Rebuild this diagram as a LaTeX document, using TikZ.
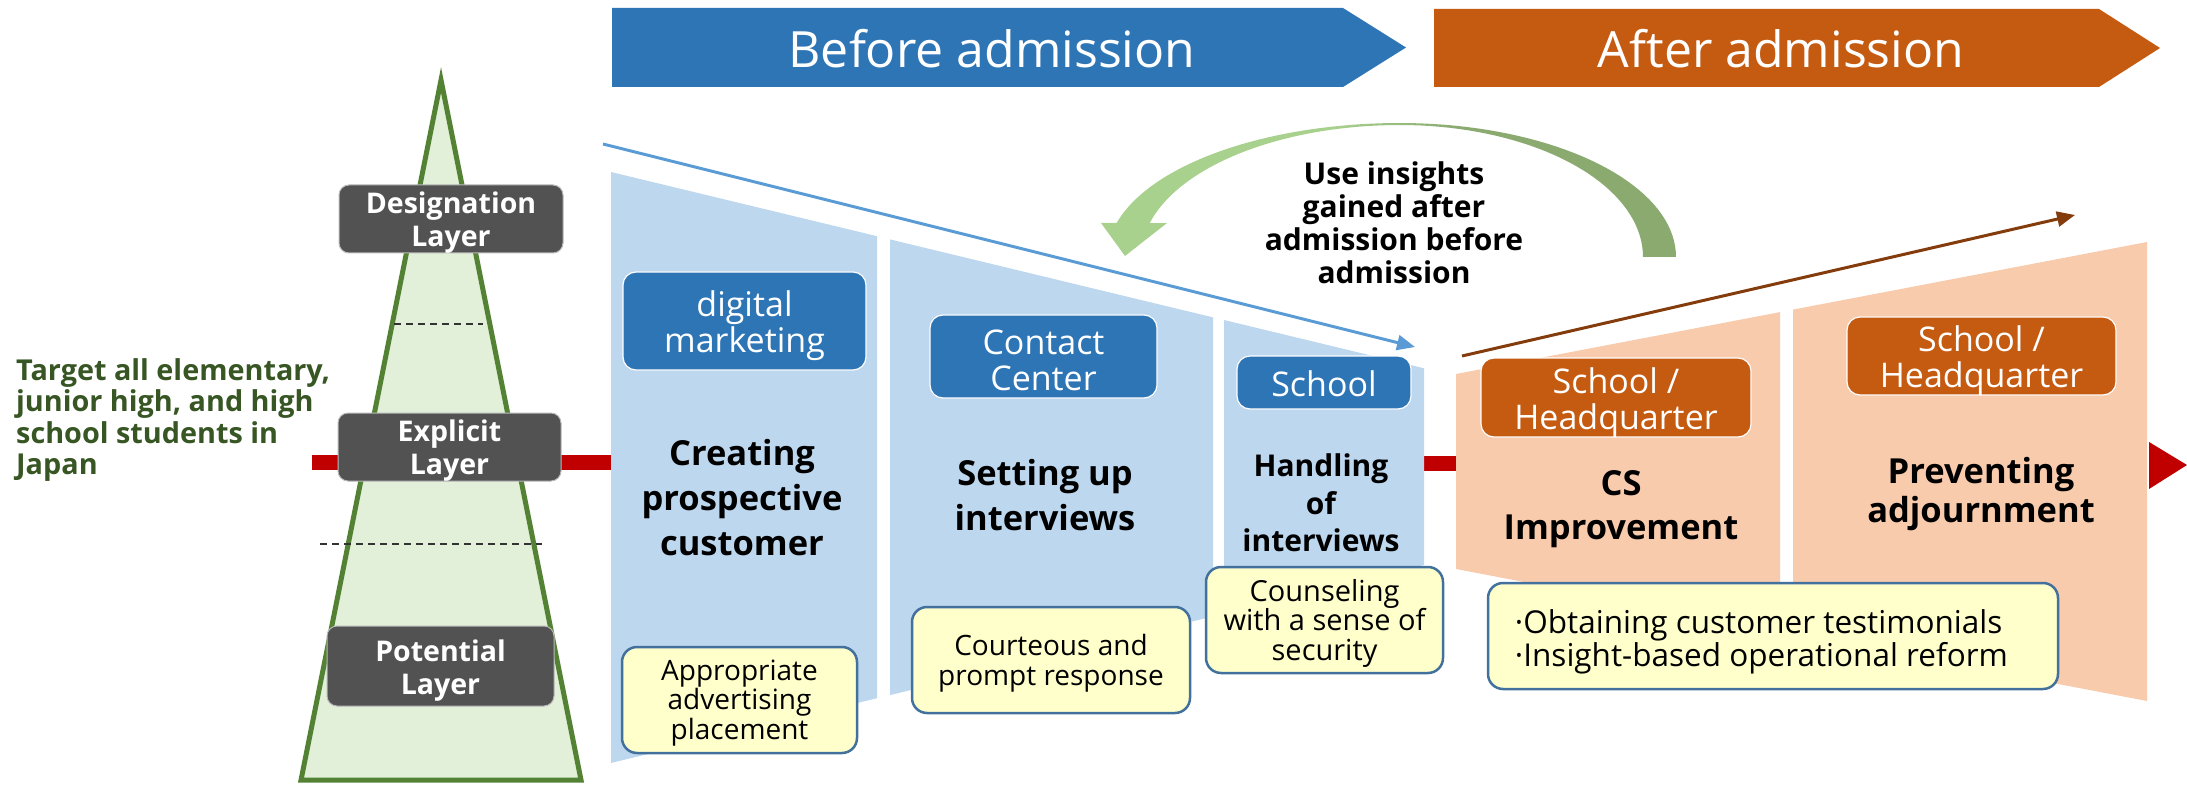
\documentclass[tikz,border=0pt]{standalone}
\usepackage{fontspec}
\setmainfont{Open Sans}
\usetikzlibrary{arrows.meta}

\definecolor{bannerBlue}{HTML}{2E75B6}
\definecolor{bannerOrange}{HTML}{C55A11}
\definecolor{panelBlue}{HTML}{BDD7EE}
\definecolor{panelOrange}{HTML}{F8CBAD}
\definecolor{pyramidGreen}{HTML}{548235}
\definecolor{pyramidFill}{HTML}{E2F0D9}
\definecolor{layerGray}{HTML}{525252}
\definecolor{targetGreen}{HTML}{375623}
\definecolor{alertRed}{HTML}{C00000}
\definecolor{lineBlue}{HTML}{5B9BD5}
\definecolor{lineBrown}{HTML}{843C0C}
\definecolor{noteYellow}{HTML}{FFFFCC}
\definecolor{noteBorder}{HTML}{41719C}
\definecolor{arcLight}{HTML}{A9D18E}
\definecolor{arcDark}{HTML}{8AAA70}

% light green on the arrow-head side, darker green on the tail side
\pgfdeclarehorizontalshading{insightshade}{100bp}{color(0bp)=(arcLight); color(45bp)=(arcLight); color(56bp)=(arcDark); color(100bp)=(arcDark)}

\begin{document}
\begin{tikzpicture}[x=1pt,y=-1pt,
  % boxes are drawn empty; their labels are separate nodes set slightly below the centre
  layerbox/.style={rectangle, rounded corners=10pt, fill=layerGray, draw=gray!55, line width=1pt, inner sep=0pt},
  layertext/.style={text=white, font=\bfseries\fontsize{28.5}{33}\selectfont, align=center, inner sep=0pt},
  rolebox/.style={rectangle, rounded corners=13pt, draw=white, line width=1.2pt, inner sep=0pt},
  roletext/.style={text=white, align=center, inner sep=0pt, font=\fontsize{34}{36}\selectfont},
  notebox/.style={rectangle, rounded corners=15pt, fill=noteYellow, draw=noteBorder, line width=2.5pt, inner sep=0pt},
  notetext/.style={align=center, inner sep=0pt, font=\fontsize{28}{29.5}\selectfont},
  stagetitle/.style={align=center, inner sep=0pt},
  bannertext/.style={text=white, font=\fontsize{50}{60}\selectfont, inner sep=0pt, anchor=base},
  flowarrow/.style={line width=3pt, -{Triangle[length=18pt,width=15pt]}},
  redbar/.style={alertRed, line width=15pt},
  layerline/.style={gray!40!black, line width=1.5pt, dash pattern=on 7pt off 5pt}
]
\useasboundingbox (0,0) rectangle (2187,786);

% ---------- phase banners ----------
\fill[bannerBlue] (612,8) -- (1343,8) -- (1406,47.5) -- (1343,87) -- (612,87) -- cycle;
\fill[bannerOrange] (1434,9) -- (2099,9) -- (2160,48) -- (2099,87) -- (1434,87) -- cycle;
\node[bannertext] (before) at (992,68) {Before admission};
\node[bannertext] (after) at (1781,68) {After admission};

% ---------- target pyramid ----------
\draw[pyramidGreen, fill=pyramidFill, line width=5pt, miter limit=25] (441,80) -- (301,780) -- (581,780) -- cycle;
\draw[layerline] (394,324) -- (483,324);
\draw[layerline] (320,544) -- (542,544);

% ---------- red flow line ----------
\coordinate (redA) at (312,462);
\coordinate (redB) at (611,462);
\coordinate (redC) at (1424,463);
\coordinate (redD) at (1456,463);
\draw[redbar] (redA) -- (redB);
\draw[redbar] (redC) -- (redD);
\fill[alertRed] (2149,442) -- (2187,465) -- (2149,489) -- cycle;

% ---------- layer labels ----------
\node[layerbox, minimum width=224pt, minimum height=68pt] (designation) at (451,219) {};
\node[layerbox, minimum width=223pt, minimum height=68pt] (explicit) at (449.5,447) {};
\node[layerbox, minimum width=227pt, minimum height=80pt] (potential) at (440.5,666) {};
\node[layertext] (designationText) at ([yshift=-4pt]designation.center) {Designation\\Layer};
\node[layertext] (explicitText) at ([yshift=-4pt]explicit.center) {Explicit\\Layer};
\node[layertext] (potentialText) at ([yshift=-5pt]potential.center) {Potential\\Layer};

\node[text=targetGreen, font=\bfseries\fontsize{28.8}{31.5}\selectfont, align=left, anchor=west, inner sep=0pt]
  (target) at (16,420) {Target all elementary,\\junior high, and high\\school students in\\Japan};

% ---------- before-admission funnel ----------
\fill[panelBlue] (611,172) -- (877,236.2) -- (877,698.2) -- (611,763) -- cycle;
\fill[panelBlue] (890,239.4) -- (1213,317.4) -- (1213,616.4) -- (890,695.1) -- cycle;
\fill[panelBlue] (1224,320) -- (1424,368.3) -- (1424,565) -- (1224,613.7) -- cycle;

% ---------- after-admission funnel ----------
\fill[panelOrange] (1456,374) -- (1780,312.1) -- (1780,630.9) -- (1456,569) -- cycle;
\fill[panelOrange] (1793,309.6) -- (2147,242) -- (2147,701) -- (1793,633.4) -- cycle;

% ---------- trend arrows ----------
\coordinate (declineStart) at (603,144);
\coordinate (declineEnd) at (1415,347);
\draw[flowarrow, lineBlue] (declineStart) -- (declineEnd);
\coordinate (riseStart) at (1462,356);
\coordinate (riseEnd) at (2075,215);
\draw[flowarrow, lineBrown] (riseStart) -- (riseEnd);

% ---------- feedback arrow ----------
\shade[shading=insightshade]
  (1117,223)
  -- plot[domain=165.3:90, samples=40] ({1400+293*cos(\x)},{257-134*sin(\x)})
  -- plot[domain=90:0, samples=40] ({1400+276*cos(\x)},{257-134*sin(\x)})
  -- (1643,257)
  -- plot[domain=0:90, samples=40] ({1400+243*cos(\x)},{257-132*sin(\x)})
  -- plot[domain=90:165.1, samples=40] ({1400+259*cos(\x)},{257-132*sin(\x)})
  -- (1167,223) -- (1125,256) -- (1101,223) -- cycle;
\node[font=\bfseries\fontsize{30}{33}\selectfont, align=center, inner sep=0pt] (insight) at (1394,223)
  {Use insights\\gained after\\admission before\\admission};

% ---------- responsible parties ----------
\node[rolebox, fill=bannerBlue, minimum width=243pt, minimum height=98pt] (digital) at (744.5,321) {};
\node[rolebox, fill=bannerBlue, minimum width=227pt, minimum height=83pt] (contact) at (1043.5,356.5) {};
\node[rolebox, fill=bannerBlue, minimum width=174pt, minimum height=53pt] (school) at (1324,382.5) {};
\node[rolebox, fill=bannerOrange, minimum width=270pt, minimum height=79pt] (schoolhqA) at (1616,397.5) {};
\node[rolebox, fill=bannerOrange, minimum width=269pt, minimum height=78pt] (schoolhqB) at (1981.5,356) {};
\node[roletext] (digitalText) at ([yshift=-5pt]digital.center) {digital\\marketing};
\node[roletext] (contactText) at ([yshift=-4pt]contact.center) {Contact\\Center};
\node[roletext] (schoolText) at ([yshift=-1pt]school.center) {School};
\node[roletext] (schoolhqAText) at ([yshift=-5pt]schoolhqA.center) {School /\\Headquarter};
\node[roletext] (schoolhqBText) at ([yshift=-5pt]schoolhqB.center) {School /\\Headquarter};

% ---------- stage titles ----------
\node[stagetitle, font=\bfseries\fontsize{34.5}{45}\selectfont] (creating) at (742,498) {Creating\\prospective\\customer};
\node[stagetitle, font=\bfseries\fontsize{34.5}{45}\selectfont] (setting) at (1045,495) {Setting up\\interviews};
\node[stagetitle, font=\bfseries\fontsize{30}{37.5}\selectfont] (handling) at (1321,503) {Handling\\of\\interviews};
\node[stagetitle, font=\bfseries\fontsize{34.5}{44}\selectfont] (cs) at (1621,509) {CS\\Improvement};
\node[stagetitle, font=\bfseries\fontsize{34.5}{39}\selectfont] (preventing) at (1981,494) {Preventing\\adjournment};

% ---------- measures ----------
\node[notebox, minimum width=235pt, minimum height=106pt] (advert) at (739.5,700) {};
\node[notebox, minimum width=278pt, minimum height=106pt] (courteous) at (1051,660) {};
\node[notebox, minimum width=237pt, minimum height=106pt] (counsel) at (1324.5,620) {};
\node[notebox, minimum width=570pt, minimum height=106pt] (reform) at (1773,636) {};
\node[notetext] (advertText) at ([yshift=-3pt]advert.center) {Appropriate\\advertising\\placement};
\node[notetext] (courteousText) at ([yshift=-3pt]courteous.center) {Courteous and\\prompt response};
\node[notetext, font=\fontsize{29}{29.5}\selectfont] (counselText) at ([yshift=-3pt]counsel.center) {Counseling\\with a sense of\\security};
\node[notetext, align=left, anchor=west, font=\fontsize{31.5}{32.5}\selectfont] (reformText) at ([xshift=28pt,yshift=-6pt]reform.west)
  {·Obtaining customer testimonials\\·Insight-based operational reform};
\end{tikzpicture}
\end{document}
